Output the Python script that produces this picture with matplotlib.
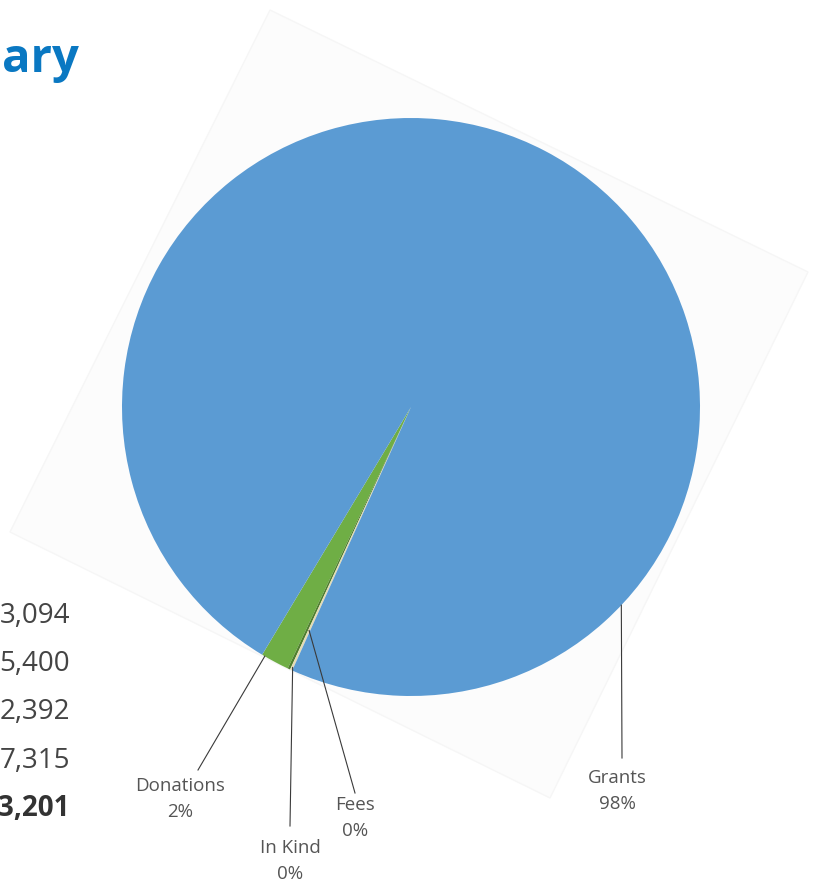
import matplotlib.pyplot as plt
import numpy as np

# pie data (order runs counter-clockwise from the Donations slice)
categories = ['Donations', 'In Kind', 'Fees', 'Grants']
values = [1.6, 0.14, 0.13, 98.13]
colors = ['#6fae45', '#4f7f2e', '#e4dcb4', '#5b9bd3']

# partly visible table on the left of the page
table_values = ['3,094', '5,400', '2,392', '7,315', '3,201']

W, H = 817, 884
plt.rcParams['font.family'] = ['Open Sans', 'DejaVu Sans']

fig = plt.figure(figsize=(W / 100, H / 100), dpi=100)
ax = fig.add_axes([0, 0, 1, 1])


def py(y):
    # pixel row (from top) -> data y
    return H - y


# faint rotated backdrop behind the chart
corners = [(270, 10), (808, 272), (550, 798), (10, 532)]
ax.add_patch(plt.Polygon([(x, py(y)) for x, y in corners], closed=True,
                         facecolor='#fcfcfc', edgecolor='#f6f6f6', lw=1, zorder=0))

cx, cy, r = 411, py(407), 289
wedges, _ = ax.pie(values, colors=colors, startangle=239, counterclock=True,
                   center=(cx, cy), radius=r, frame=True,
                   wedgeprops=dict(linewidth=0))
ax.set_xlim(0, W)
ax.set_ylim(0, H)
ax.set_aspect('equal')
ax.axis('off')
for w in wedges:
    w.set_zorder(2)

total = sum(values)
pcts = [f'{v / total * 100:.0f}%' for v in values]

# label layout: anchor angle in wedge, anchor radius fraction, line end and text centre (px)
layout = {
    'Donations': dict(ang=lambda w: w.theta1 + 0.6, rf=1.0, end=(198, 770), txt=(180, 786)),
    'In Kind': dict(ang=lambda w: w.theta2 + 0.3, rf=0.99, end=(290, 826), txt=(290, 848)),
    'Fees': dict(ang=lambda w: (w.theta1 + w.theta2) / 2, rf=0.85, end=(355, 793), txt=(355, 805)),
    'Grants': dict(ang=lambda w: -43.3, rf=1.0, end=(622, 758), txt=(617, 778)),
}

for w, name, pct in zip(wedges, categories, pcts):
    lo = layout[name]
    a = np.deg2rad(lo['ang'](w))
    x0 = cx + r * lo['rf'] * np.cos(a)
    y0 = cy + r * lo['rf'] * np.sin(a)
    ax.plot([x0, lo['end'][0]], [y0, py(lo['end'][1])], color='#3a3a3a', lw=0.8, zorder=3)
    tx, ty = lo['txt']
    ax.text(tx, py(ty), name, ha='center', va='center', fontsize=13.5, color='#555555', zorder=4)
    ax.text(tx, py(ty + 26), pct, ha='center', va='center', fontsize=13.5, color='#555555', zorder=4)

# heading fragment and table numbers at the page edge
ax.text(2, py(72), 'ary', ha='left', va='baseline', fontsize=34, fontweight='bold',
        color='#0a78c2')
for i, s in enumerate(table_values):
    last = i == len(table_values) - 1
    ax.text(70, py(616 + i * 48.2), s, ha='right', va='center', fontsize=20,
            color='#333333' if last else '#444444',
            fontweight='bold' if last else 'normal')

fig.savefig('out.png', dpi=100)
